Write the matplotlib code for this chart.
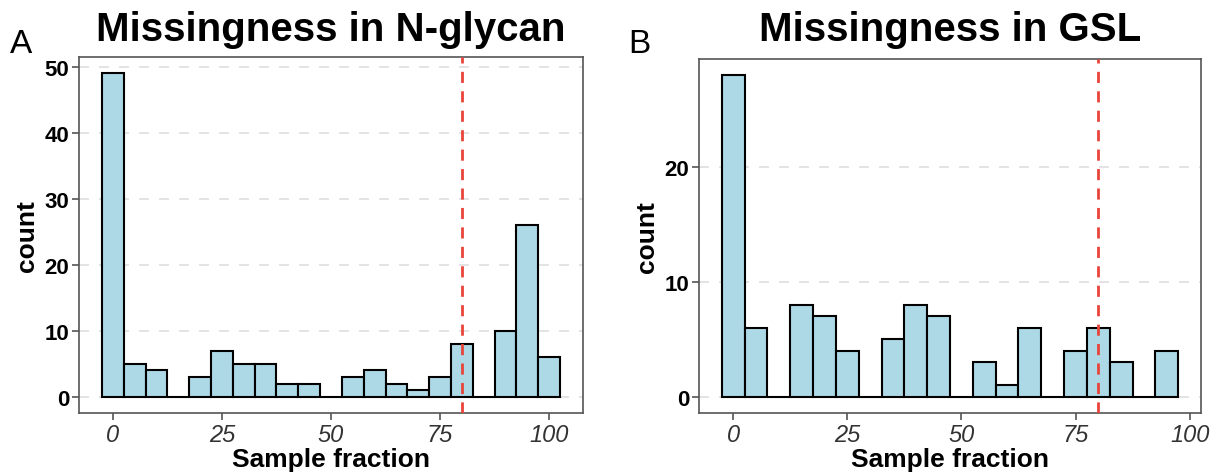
"""Missingness histograms for N-glycan and GSL features."""

import numpy as np
import matplotlib

matplotlib.use("Agg")
import matplotlib.pyplot as plt

plt.rcParams["font.family"] = ["Liberation Sans", "DejaVu Sans"]

# bin centres (sample fraction, %) and counts
nglycan_bins = [0, 5, 10, 15, 20, 25, 30, 35, 40, 45, 50,
                55, 60, 65, 70, 75, 80, 85, 90, 95, 100]
nglycan_counts = [49, 5, 4, 0, 3, 7, 5, 5, 2, 2, 0,
                  3, 4, 2, 1, 3, 8, 0, 10, 26, 6]

gsl_bins = [0, 5, 10, 15, 20, 25, 30, 35, 40, 45,
            50, 55, 60, 65, 70, 75, 80, 85, 90, 95]
gsl_counts = [28, 6, 0, 8, 7, 4, 0, 5, 8, 7,
              0, 3, 1, 6, 0, 4, 6, 3, 0, 4]

x_ticks = [0, 25, 50, 75, 100]
cutoff = 80
bin_width = 5

W, H = 1222, 477
fig = plt.figure(figsize=(W / 100, H / 100), dpi=100)


def px_axes(left, top, right, bottom):
    return fig.add_axes([left / W, 1 - bottom / H, (right - left) / W, (bottom - top) / H])


def draw_panel(ax, bins, counts, y_ticks, title):
    bins = np.asarray(bins)
    counts = np.asarray(counts)
    ax.bar(bins, counts, width=bin_width, color="#add8e6", edgecolor="black",
           linewidth=1.5, zorder=2)
    ax.axvline(cutoff, color="#e8443a", linestyle=(0, (4, 3)), linewidth=2, zorder=3)

    lo, hi = bins.min() - bin_width / 2, bins.max() + bin_width / 2
    pad = 0.05 * (hi - lo)
    ax.set_xlim(lo - pad, hi + pad)
    ymax = counts.max()
    ax.set_ylim(-0.05 * ymax, 1.05 * ymax)

    ax.set_yticks(y_ticks)
    ax.set_xticks(x_ticks)
    ax.yaxis.grid(True, color="#dedede", linestyle=(0, (6, 6)), linewidth=1.2, zorder=0)
    ax.set_axisbelow(True)

    for s in ax.spines.values():
        s.set_color("#555555")
        s.set_linewidth(1.2)
    ax.tick_params(axis="both", color="#555555", length=5, width=1.2)
    ax.tick_params(axis="y", labelsize=16, pad=2)
    ax.tick_params(axis="x", labelsize=17, pad=2)
    for lbl in ax.get_yticklabels():
        lbl.set_fontweight("bold")
    for lbl in ax.get_xticklabels():
        lbl.set_fontstyle("italic")
        lbl.set_color("#333333")

    ax.set_xlabel("Sample fraction", fontsize=19, fontweight="bold", labelpad=1)
    ax.set_ylabel("count", fontsize=19, fontweight="bold", labelpad=4)
    fig.text((ax.get_position().x0 + ax.get_position().x1) / 2, 1 - 41 / H, title,
             fontsize=29, fontweight="bold", ha="center", va="baseline")


ax_a = px_axes(79, 58, 583, 414)
draw_panel(ax_a, nglycan_bins, nglycan_counts, [0, 10, 20, 30, 40, 50],
           "Missingness in N-glycan")

ax_b = px_axes(699, 60, 1201, 414)
draw_panel(ax_b, gsl_bins, gsl_counts, [0, 10, 20], "Missingness in GSL")

fig.text(10 / W, 1 - 53 / H, "A", fontsize=24, va="baseline", ha="left")
fig.text(628 / W, 1 - 53 / H, "B", fontsize=24, va="baseline", ha="left")

fig.savefig("out.png", dpi=100, facecolor="white")
